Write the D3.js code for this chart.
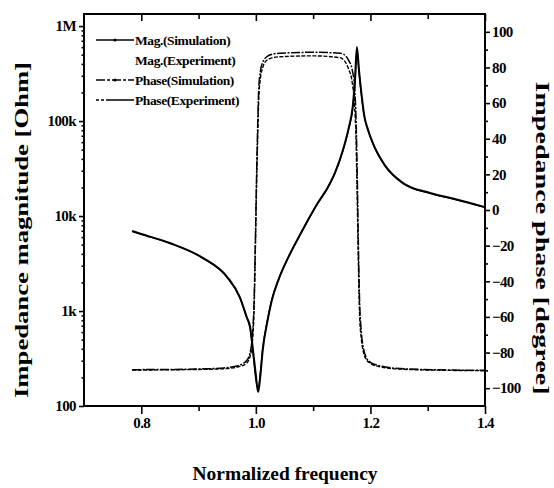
<!DOCTYPE html>
<html><head><meta charset="utf-8">
<script src="https://cdn.jsdelivr.net/npm/d3@7/dist/d3.min.js"></script>
<style>
html,body{margin:0;padding:0;background:#fff;}
svg{display:block;}
</style></head>
<body>
<script>
// ---- data ----
const freqMag = [0.784,0.80,0.85,0.908,0.95,0.972,0.984,0.990,0.995,1.000,1.004,1.008,1.012,1.020,1.028,1.040,1.056,1.075,1.091,1.108,1.125,1.138,1.152,1.162,1.169,1.173,1.1764,1.180,1.185,1.189,1.196,1.208,1.225,1.257,1.304,1.347,1.40];
const magSim = [6950,6470,5200,3610,2280,1400,865,680,388,212,140,212,388,766,1306,2170,3600,6010,9080,13700,19700,28400,49500,84300,140000,270000,601000,344000,179000,116000,80400,52000,34400,22200,17500,15100,12400];
const magExp = [6900,6420,5150,3580,2250,1380,850,650,360,190,150,230,410,790,1330,2200,3620,6000,9000,13600,19500,28000,48500,82000,135000,250000,560000,330000,172000,113000,79000,51500,34000,22000,17300,15000,12300];
const freqPh = [0.784,0.85,0.90,0.937,0.960,0.972,0.984,0.990,0.994,0.997,0.999,1.001,1.003,1.005,1.008,1.012,1.019,1.030,1.042,1.10,1.147,1.155,1.162,1.168,1.172,1.175,1.177,1.179,1.181,1.184,1.188,1.193,1.200,1.217,1.252,1.32,1.40];
const phaseSim = [-89.6,-89.5,-89.2,-88.8,-88.0,-87.0,-84.5,-80,-70,-50,-20,15,45,68,78,83,86,87.5,88,88.5,88,87,84,79,70,50,20,-20,-50,-68,-78,-83,-85.5,-87.5,-89,-89.7,-90];
const phaseExp = [-89.8,-89.7,-89.5,-89.2,-88.6,-87.8,-86,-82,-74,-55,-25,10,38,62,74,80,84,85.5,86,86.5,85.5,83.5,79,72,60,38,5,-30,-58,-72,-80,-84,-86,-88,-89.3,-89.9,-90.2];
const xTicks = [0.8,1.0,1.2,1.4];
const xMinor = [0.9,1.1,1.3];
const magTicks = [100,1e3,1e4,1e5,1e6];
const magTickLabels = ["100","1k","10k","100k","1M"];
const phTicks = [-100,-80,-60,-40,-20,0,20,40,60,80,100];
const phMinor = [-90,-70,-50,-30,-10,10,30,50,70,90];
const legendLabels = ["Mag.(Simulation)","Mag.(Experiment)","Phase(Simulation)","Phase(Experiment)"];

const FONT = '"Liberation Serif","Times New Roman",serif';
const W=554,H=488;
const L=84,R=485,T=14,B=406;
const svg=d3.select("body").append("svg").attr("width",W).attr("height",H)
  .style("font-family",FONT);

const x=d3.scaleLinear().domain([0.7,1.4]).range([L,R]);
const yM=d3.scaleLog().domain([100,1.34e6]).range([B,T]);
const yP=d3.scaleLinear().domain([-110,110]).range([B,T]);

function styleAxis(g,fs){
  g.attr("font-family",FONT);
  g.select(".domain").remove();
  g.selectAll("line").attr("stroke","#000").attr("stroke-width",1.6);
  g.selectAll("text").style("font-family",FONT).style("font-weight","bold")
    .style("font-size",fs+"px").style("letter-spacing","-0.6px").attr("fill","#000");
}
// bottom
svg.append("g").attr("transform",`translate(0,${B})`)
  .call(d3.axisBottom(x).tickValues(xTicks).tickFormat(d3.format(".1f")).tickSize(8).tickPadding(3))
  .call(g=>styleAxis(g,15));
svg.append("g").attr("transform",`translate(0,${B})`)
  .call(d3.axisBottom(x).tickValues(xMinor).tickFormat("").tickSize(5))
  .call(g=>styleAxis(g,15));
// top (inward)
svg.append("g").attr("transform",`translate(0,${T})`)
  .call(d3.axisTop(x).tickValues(xTicks).tickFormat("").tickSize(-7))
  .call(g=>styleAxis(g,15));
svg.append("g").attr("transform",`translate(0,${T})`)
  .call(d3.axisTop(x).tickValues(xMinor).tickFormat("").tickSize(-5))
  .call(g=>styleAxis(g,15));
// left
svg.append("g").attr("transform",`translate(${L},0)`)
  .call(d3.axisLeft(yM).tickValues(magTicks).tickFormat((d,i)=>magTickLabels[i]).tickSize(5).tickPadding(3))
  .call(g=>styleAxis(g,15));
const magMinor=[];
[100,1e3,1e4,1e5].forEach(dec=>{for(let k=2;k<=9;k++)magMinor.push(dec*k);});
svg.append("g").attr("transform",`translate(${L},0)`)
  .call(d3.axisLeft(yM).tickValues(magMinor).tickFormat("").tickSize(2.5))
  .call(g=>styleAxis(g,15));
// right
svg.append("g").attr("transform",`translate(${R},0)`)
  .call(d3.axisRight(yP).tickValues(phTicks).tickFormat(d3.format("d")).tickSize(5).tickPadding(2))
  .call(g=>styleAxis(g,15));
svg.append("g").attr("transform",`translate(${R},0)`)
  .call(d3.axisRight(yP).tickValues(phMinor).tickFormat("").tickSize(3))
  .call(g=>styleAxis(g,15));

// frame
svg.append("rect").attr("x",L).attr("y",T).attr("width",R-L).attr("height",B-T)
  .attr("fill","none").attr("stroke","#000").attr("stroke-width",2);

// curves
const lineM=(vals)=>d3.line().x((d,i)=>x(freqMag[i])).y(d=>yM(d)).curve(d3.curveMonotoneX)(vals);
const lineP=(vals)=>d3.line().x((d,i)=>x(freqPh[i])).y(d=>yP(d)).curve(d3.curveMonotoneX)(vals);

svg.append("path").attr("d",lineP(phaseExp)).attr("fill","none").attr("stroke","#000")
  .attr("stroke-width",1.4).attr("stroke-dasharray","4,1.5");
svg.append("path").attr("d",lineP(phaseSim)).attr("fill","none").attr("stroke","#000")
  .attr("stroke-width",1.5).attr("stroke-dasharray","9,1.5,2,1.5");
svg.append("path").attr("d",lineM(magExp)).attr("fill","none").attr("stroke","#000")
  .attr("stroke-width",1.3);
svg.append("path").attr("d",lineM(magSim)).attr("fill","none").attr("stroke","#000")
  .attr("stroke-width",2);

// legend
const lg=svg.append("g");
const legY=[40,60,80,100];
const legDash=[null,null,"9,2,3,2","3,2,3,2,30,0"];
legendLabels.forEach((lab,i)=>{
  if(i!==1){
    lg.append("line").attr("x1",96).attr("x2",134).attr("y1",legY[i]).attr("y2",legY[i])
      .attr("stroke","#000").attr("stroke-width",1.3)
      .attr("stroke-dasharray",legDash[i]);
  }
  if(i===0||i===2){
    lg.append("circle").attr("cx",115).attr("cy",legY[i]).attr("r",1.6).attr("fill","#000");
  }
  lg.append("text").attr("x",135).attr("y",legY[i]+4.5)
    .style("font-family",FONT).style("font-weight","bold").style("font-size","13.5px")
    .style("letter-spacing","-0.4px").text(lab);
});

// axis titles
function title(sel){
  return sel.attr("text-anchor","middle").style("font-family",FONT).style("font-weight","bold")
    .style("font-size","19px").attr("lengthAdjust","spacingAndGlyphs");
}
title(svg.append("text").attr("transform","translate(28,230) rotate(-90)"))
  .attr("textLength",336).text("Impedance magnitude [Ohm]");
title(svg.append("text").attr("transform","translate(536,238) rotate(90)"))
  .attr("textLength",313).text("Impedance phase [degree]");
title(svg.append("text").attr("x",285).attr("y",480))
  .attr("textLength",185).text("Normalized frequency");
</script>
</body></html>
